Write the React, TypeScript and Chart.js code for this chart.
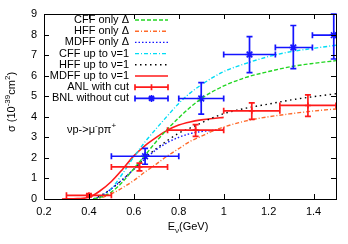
import React, { useEffect, useRef } from "react";
import { Chart, registerables } from "chart.js";
Chart.register(...registerables);

const FONT = "'Liberation Sans', Arial, Helvetica, sans-serif";

// ---- tick labels ----
const xTicks = [0.2, 0.4, 0.6, 0.8, 1.0, 1.2, 1.4];
const yTicks = [0, 1, 2, 3, 4, 5, 6, 7, 8, 9];

// ---- theory curves ----
const curveX = [0.42, 0.45, 0.5, 0.55, 0.6, 0.65, 0.7, 0.75, 0.8, 0.85, 0.9, 0.95, 1.0, 1.1, 1.2, 1.3, 1.4, 1.5];
const cffOnlyDelta = [0, 0.08, 0.34, 0.83, 1.48, 2.13, 2.8, 3.4, 3.95, 4.45, 4.88, 5.22, 5.5, 5.92, 6.2, 6.44, 6.6, 6.73];
const hffOnlyDelta = [0, 0.05, 0.25, 0.55, 0.9, 1.32, 1.7, 2.1, 2.45, 2.8, 3.05, 3.3, 3.5, 3.8, 4.0, 4.15, 4.28, 4.38];
const mdffOnlyDeltaX = [0.42, 0.45, 0.5, 0.55, 0.6, 0.65, 0.7, 0.75, 0.8, 0.85, 0.9, 0.95, 1.0];
const mdffOnlyDelta = [0, 0.12, 0.5, 0.95, 1.45, 1.95, 2.4, 2.75, 3.0, 3.18, 3.28, 3.33, 3.36];
const cffUpTo1 = [0, 0.1, 0.5, 1.24, 2.05, 2.78, 3.43, 4.05, 4.65, 5.15, 5.55, 5.9, 6.2, 6.6, 6.93, 7.17, 7.33, 7.48];
const hffUpTo1 = [0, 0.15, 0.5, 0.95, 1.45, 2.0, 2.45, 2.85, 3.2, 3.45, 3.7, 3.95, 4.15, 4.42, 4.62, 4.82, 4.98, 5.12];
const mdffUpTo1X = [0.28, 0.35, 0.4, 0.45, 0.5, 0.55, 0.6, 0.65, 0.7, 0.75, 0.8, 0.85, 0.9, 0.95, 1.0];
const mdffUpTo1 = [0, 0.02, 0.08, 0.4, 0.85, 1.45, 2.1, 2.6, 3.0, 3.35, 3.6, 3.75, 3.85, 3.92, 3.97];

// ---- experimental data ----
const anlX = [0.4, 0.625, 0.875, 1.125, 1.375];
const anlY = [0.18, 1.56, 3.35, 4.29, 4.55];
const anlXLow = [0.3, 0.5, 0.75, 1.0, 1.25];
const anlXHigh = [0.5, 0.75, 1.0, 1.25, 1.5];
const anlYLow = [0.1, 1.37, 3.05, 3.87, 4.02];
const anlYHigh = [0.26, 1.75, 3.62, 4.68, 5.07];

const bnlX = [0.65, 0.9, 1.115, 1.31, 1.49];
const bnlY = [2.08, 4.89, 7.03, 7.37, 7.97];
const bnlXLow = [0.5, 0.8, 1.0, 1.23, 1.395];
const bnlXHigh = [0.8, 1.0, 1.23, 1.395, 1.5];
const bnlYLow = [1.69, 4.13, 6.15, 6.34, 6.81];
const bnlYHigh = [2.46, 5.66, 7.9, 8.44, 9.0];

const seriesNames = [
  "CFF only Δ",
  "HFF only Δ",
  "MDFF only Δ",
  "CFF up to ν=1",
  "HFF up to ν=1",
  "MDFF up to ν=1",
  "ANL with cut",
  "BNL without cut",
];

const GREEN = "#22d622";
const ORANGE = "#ff6a2a";
const BLUE = "#1414ff";
const CYAN = "#00dcf5";
const BLACK = "#000000";
const RED = "#ff1a1a";

const curveStyles = [
  { color: GREEN, dash: [4, 2] },
  { color: ORANGE, dash: [4, 2, 1, 2] },
  { color: BLUE, dash: [1.5, 2] },
  { color: CYAN, dash: [4, 2, 1, 2] },
  { color: BLACK, dash: [1.5, 3.5] },
  { color: RED, dash: [] as number[] },
];

function lineDs(label: string, xs: number[], ys: number[], idx: number) {
  return {
    type: "line" as const,
    label,
    data: xs.map((x, i) => ({ x, y: ys[i] })),
    borderColor: curveStyles[idx].color,
    borderDash: curveStyles[idx].dash,
    borderWidth: idx === 5 ? 1.6 : 1.4,
    pointRadius: 0,
    fill: false,
    cubicInterpolationMode: "monotone" as const,
  };
}

type Seg = { t: string; sup?: boolean; sub?: boolean };

function drawRich(ctx: CanvasRenderingContext2D, segs: Seg[], x: number, y: number, size: number, align: "left" | "center" | "right") {
  const base = `${size}px ${FONT}`;
  const small = `${Math.round(size * 0.72)}px ${FONT}`;
  let total = 0;
  const widths = segs.map((s) => {
    ctx.font = s.sup || s.sub ? small : base;
    const w = ctx.measureText(s.t).width;
    total += w;
    return w;
  });
  let cx = align === "center" ? x - total / 2 : align === "right" ? x - total : x;
  ctx.textAlign = "left";
  ctx.textBaseline = "middle";
  segs.forEach((s, i) => {
    ctx.font = s.sup || s.sub ? small : base;
    const dy = s.sup ? -size * 0.38 : s.sub ? size * 0.3 : 0;
    ctx.fillText(s.t, cx, y + dy);
    cx += widths[i];
  });
}

function drawErrBars(ctx: CanvasRenderingContext2D, chart: any, xs: number[], ys: number[], xl: number[], xh: number[], yl: number[], yh: number[], color: string) {
  const sx = chart.scales.x;
  const sy = chart.scales.y;
  ctx.save();
  ctx.strokeStyle = color;
  ctx.lineWidth = 1.7;
  ctx.setLineDash([]);
  const cap = 3;
  for (let i = 0; i < xs.length; i++) {
    const px = sx.getPixelForValue(xs[i]);
    const py = sy.getPixelForValue(ys[i]);
    const x1 = sx.getPixelForValue(xl[i]);
    const x2 = sx.getPixelForValue(xh[i]);
    const y1 = sy.getPixelForValue(yl[i]);
    const y2 = sy.getPixelForValue(yh[i]);
    ctx.beginPath();
    ctx.moveTo(x1, py); ctx.lineTo(x2, py);
    ctx.moveTo(x1, py - cap); ctx.lineTo(x1, py + cap);
    ctx.moveTo(x2, py - cap); ctx.lineTo(x2, py + cap);
    ctx.moveTo(px, y1); ctx.lineTo(px, y2);
    ctx.moveTo(px - cap, y1); ctx.lineTo(px + cap, y1);
    ctx.moveTo(px - cap, y2); ctx.lineTo(px + cap, y2);
    ctx.stroke();
  }
  ctx.restore();
}

function drawStar(ctx: CanvasRenderingContext2D, x: number, y: number, r: number) {
  ctx.beginPath();
  ctx.moveTo(x - r, y); ctx.lineTo(x + r, y);
  ctx.moveTo(x, y - r); ctx.lineTo(x, y + r);
  const d = r * 0.707;
  ctx.moveTo(x - d, y - d); ctx.lineTo(x + d, y + d);
  ctx.moveTo(x - d, y + d); ctx.lineTo(x + d, y - d);
  ctx.stroke();
}

const overlay = {
  id: "overlay",
  afterDatasetsDraw(chart: any) {
    const ctx = chart.ctx as CanvasRenderingContext2D;
    drawErrBars(ctx, chart, anlX, anlY, anlXLow, anlXHigh, anlYLow, anlYHigh, RED);
    drawErrBars(ctx, chart, bnlX, bnlY, bnlXLow, bnlXHigh, bnlYLow, bnlYHigh, BLUE);
  },
  afterDraw(chart: any) {
    const ctx = chart.ctx as CanvasRenderingContext2D;
    const { left, right, top, bottom } = chart.chartArea;
    const sx = chart.scales.x;
    const sy = chart.scales.y;
    ctx.save();
    // frame
    ctx.strokeStyle = "#000";
    ctx.lineWidth = 1;
    ctx.setLineDash([]);
    ctx.strokeRect(Math.round(left) + 0.5, Math.round(top) + 0.5, Math.round(right - left), Math.round(bottom - top));
    // inward ticks
    const tl = 5;
    ctx.beginPath();
    xTicks.forEach((v) => {
      const p = Math.round(sx.getPixelForValue(v)) + 0.5;
      ctx.moveTo(p, bottom); ctx.lineTo(p, bottom - tl);
      ctx.moveTo(p, top); ctx.lineTo(p, top + tl);
    });
    yTicks.forEach((v) => {
      const p = Math.round(sy.getPixelForValue(v)) + 0.5;
      ctx.moveTo(left, p); ctx.lineTo(left + tl, p);
      ctx.moveTo(right, p); ctx.lineTo(right - tl, p);
    });
    ctx.stroke();

    // legend
    ctx.fillStyle = "#000";
    const textRight = 129;
    const s1 = 135;
    const s2 = 168;
    seriesNames.forEach((name, i) => {
      const y = 20 + i * 11.2;
      ctx.font = `11px ${FONT}`;
      ctx.textAlign = "right";
      ctx.textBaseline = "middle";
      ctx.fillStyle = "#000";
      ctx.fillText(name, textRight, y);
      if (i < 6) {
        ctx.strokeStyle = curveStyles[i].color;
        ctx.setLineDash(curveStyles[i].dash);
        ctx.lineWidth = i === 5 ? 1.6 : 1.4;
        ctx.beginPath();
        ctx.moveTo(s1, y); ctx.lineTo(s2, y);
        ctx.stroke();
        ctx.setLineDash([]);
      } else {
        const c = i === 6 ? RED : BLUE;
        ctx.strokeStyle = c;
        ctx.lineWidth = 1.7;
        ctx.setLineDash([]);
        ctx.beginPath();
        ctx.moveTo(s1, y); ctx.lineTo(s2, y);
        ctx.moveTo(s1, y - 3); ctx.lineTo(s1, y + 3);
        ctx.moveTo(s2, y - 3); ctx.lineTo(s2, y + 3);
        const m = (s1 + s2) / 2;
        if (i === 6) {
          ctx.moveTo(m, y - 3); ctx.lineTo(m, y + 3);
        }
        ctx.stroke();
        if (i === 7) drawStar(ctx, m, y, 3.5);
      }
    });

    // annotation
    ctx.fillStyle = "#000";
    drawRich(ctx, [{ t: "νp->μ" }, { t: "-", sup: true }, { t: "pπ" }, { t: "+", sup: true }], 67, 130, 11, "left");

    // x title
    drawRich(ctx, [{ t: "E" }, { t: "ν", sub: true }, { t: "(GeV)" }], 188, 227, 11, "center");

    // y title
    ctx.translate(12, 102);
    ctx.rotate(-Math.PI / 2);
    drawRich(ctx, [{ t: "σ (10" }, { t: "-39", sup: true }, { t: "cm" }, { t: "2", sup: true }, { t: ")" }], 0, 0, 11, "center");
    ctx.restore();
  },
};

export default function App() {
  const ref = useRef<HTMLCanvasElement>(null);
  useEffect(() => {
    document.body.style.margin = "0";
    const datasets: any[] = [
      lineDs(seriesNames[0], curveX, cffOnlyDelta, 0),
      lineDs(seriesNames[1], curveX, hffOnlyDelta, 1),
      lineDs(seriesNames[2], mdffOnlyDeltaX, mdffOnlyDelta, 2),
      lineDs(seriesNames[3], curveX, cffUpTo1, 3),
      lineDs(seriesNames[4], curveX, hffUpTo1, 4),
      lineDs(seriesNames[5], mdffUpTo1X, mdffUpTo1, 5),
      {
        type: "scatter",
        label: seriesNames[6],
        data: anlX.map((x, i) => ({ x, y: anlY[i] })),
        pointStyle: "cross",
        pointRadius: 3,
        borderColor: RED,
        backgroundColor: RED,
        borderWidth: 1.6,
        showLine: false,
      },
      {
        type: "scatter",
        label: seriesNames[7],
        data: bnlX.map((x, i) => ({ x, y: bnlY[i] })),
        pointStyle: "star",
        pointRadius: 4,
        borderColor: BLUE,
        backgroundColor: BLUE,
        borderWidth: 1.6,
        showLine: false,
      },
    ];
    const tickFont = { family: FONT, size: 11 };
    const chart = new Chart(ref.current as HTMLCanvasElement, {
      type: "line",
      data: { datasets },
      plugins: [overlay],
      options: {
        responsive: false,
        animation: false,
        devicePixelRatio: 1,
        layout: { padding: { left: 0, right: 12, top: 14, bottom: 0 } },
        plugins: { legend: { display: false }, tooltip: { enabled: false } },
        scales: {
          x: {
            type: "linear",
            min: 0.2,
            max: 1.5,
            afterBuildTicks: (s: any) => { s.ticks = xTicks.map((v) => ({ value: v })); },
            afterFit: (s: any) => { s.height = 45; },
            ticks: {
              callback: (v: any) => String(Number(Number(v).toFixed(1))),
              padding: 6,
              font: tickFont,
              color: "#000",
              maxRotation: 0,
              autoSkip: false,
            },
            grid: { display: false, drawTicks: false },
            border: { display: false },
          },
          y: {
            type: "linear",
            min: 0,
            max: 9,
            afterBuildTicks: (s: any) => { s.ticks = yTicks.map((v) => ({ value: v })); },
            afterFit: (s: any) => { s.width = 44; },
            ticks: {
              callback: (v: any) => String(v),
              padding: 7,
              font: tickFont,
              color: "#000",
              autoSkip: false,
            },
            grid: { display: false, drawTicks: false },
            border: { display: false },
          },
        },
      } as any,
    });
    return () => chart.destroy();
  }, []);
  return <canvas ref={ref} width={348} height={244} style={{ display: "block", width: 348, height: 244 }} />;
}
